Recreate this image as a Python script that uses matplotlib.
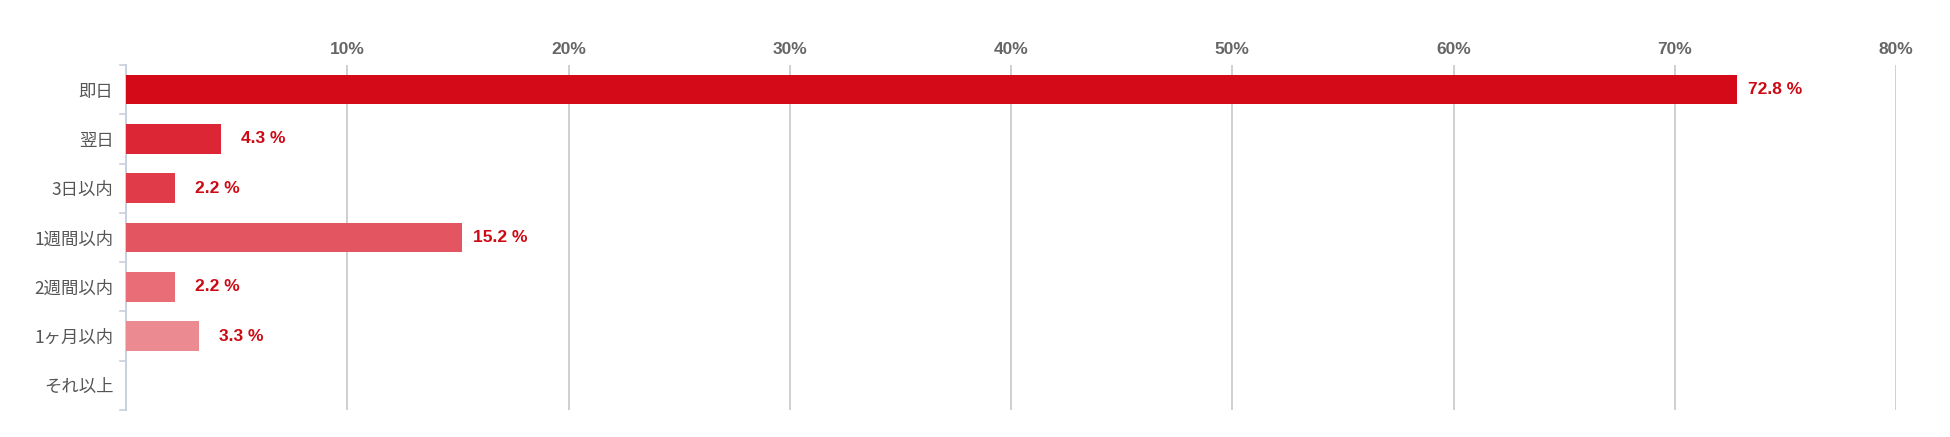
import matplotlib
matplotlib.use("Agg")
import matplotlib.pyplot as plt
import numpy as np

categories = ["即日", "翌日", "3日以内", "1週間以内", "2週間以内", "1ヶ月以内", "それ以上"]
values = [72.8, 4.3, 2.2, 15.2, 2.2, 3.3, 0.0]
bar_colors = ["#D50A19", "#DC2535", "#DF3B49", "#E35661", "#E86D77", "#EC8A91", "#F0A5AA"]
xticks = [10, 20, 30, 40, 50, 60, 70, 80]
xtick_labels = [f"{t}%" for t in xticks]

W, H = 1950, 437
fig = plt.figure(figsize=(W / 100, H / 100), dpi=100)
left, right, top, bottom = 126, 1896, 65, 410
ax = fig.add_axes([left / W, 1 - bottom / H, (right - left) / W, (bottom - top) / H])

n = len(categories)
ypos = np.arange(n)
ax.barh(ypos, values, height=0.6, color=bar_colors, zorder=3)
ax.set_ylim(n - 0.5, -0.5)
ax.set_xlim(0, 80)

# vertical gridlines
for t in xticks:
    ax.axvline(t, color="#CFCFCF", lw=1.4, zorder=1)

ax.set_xticks(xticks)
ax.set_xticklabels(xtick_labels, fontfamily="Liberation Sans", fontweight="bold",
                   fontsize=12.5, color="#666666")
ax.xaxis.tick_top()
ax.tick_params(axis="x", length=0, pad=6)

# category labels
ax.set_yticks(ypos)
ax.set_yticklabels(categories, fontfamily=["Noto Sans CJK JP", "DejaVu Sans"],
                   fontsize=12.5, color="#555555")
ax.tick_params(axis="y", length=0, pad=9)
# boundary ticks on the category axis
for b in np.arange(-0.5, n, 1.0):
    ax.plot([-0.25, 0], [b, b], color="#C8D0DC", lw=1.2, clip_on=False, zorder=4)

for s in ["top", "right", "bottom"]:
    ax.spines[s].set_visible(False)
ax.spines["left"].set_color("#C8D0DC")
ax.spines["left"].set_linewidth(1.4)

# value labels
for y, v in zip(ypos, values):
    if v <= 0:
        continue
    gap = 11 if v > 10 else 20
    ax.annotate(f"{v:.1f} %", xy=(v, y), xytext=(gap * 0.72, 0), textcoords="offset points",
                va="center", ha="left", fontfamily="Liberation Sans", fontweight="bold",
                fontsize=12.5, color="#CC0A14", zorder=5)

fig.savefig("out.png", dpi=100, facecolor="white")
